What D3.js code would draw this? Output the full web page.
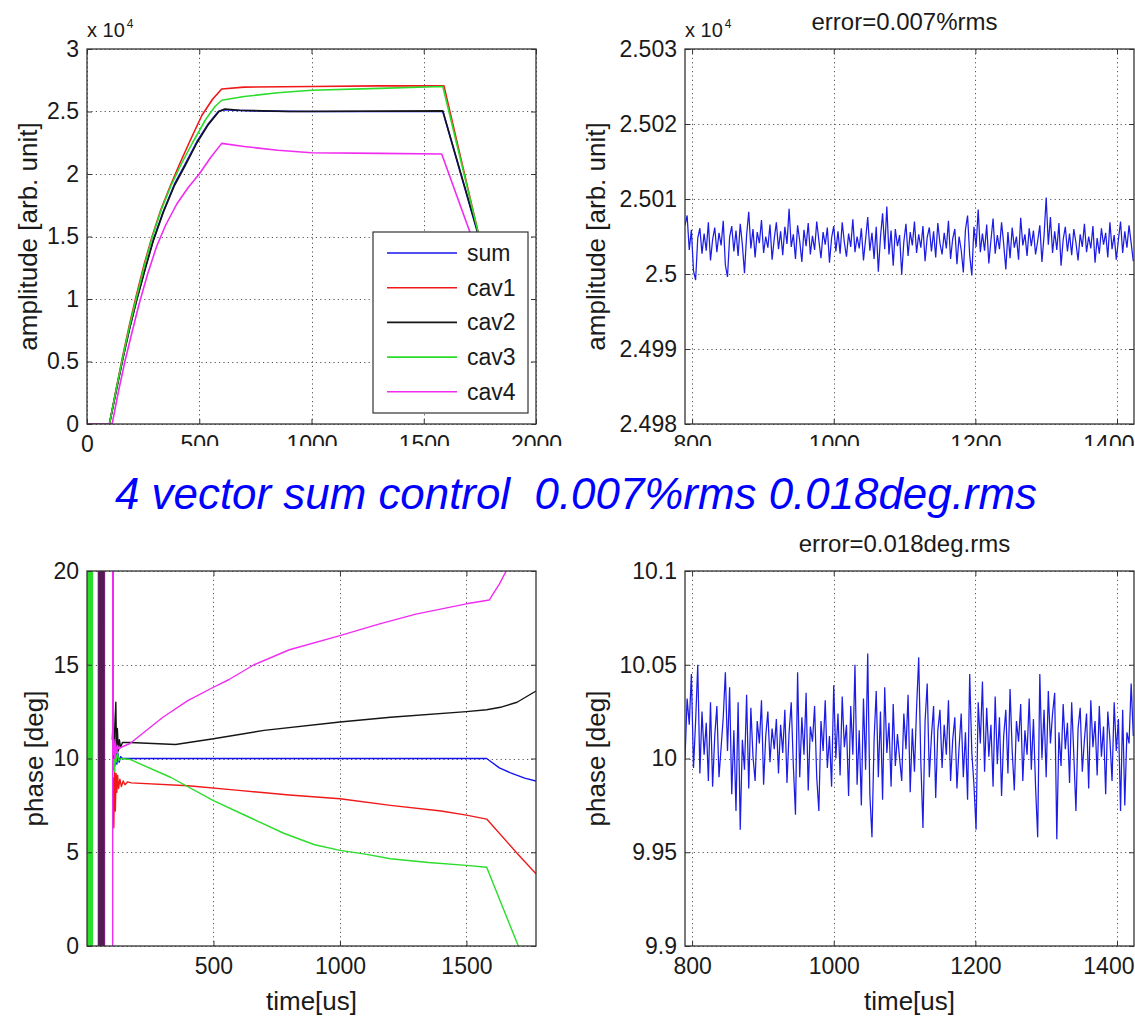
<!DOCTYPE html>
<html>
<head>
<meta charset="utf-8">
<script src="https://cdn.jsdelivr.net/npm/d3@7"></script>
<style>
  body { margin: 0; background: #fff; }
  svg { display: block; font-family: "Liberation Sans", Arial, Helvetica, sans-serif; }
</style>
</head>
<body>
<svg id="fig" width="1135" height="1017"></svg>
<script>
// ---------------------------------------------------------------------------
// Data
// ---------------------------------------------------------------------------
const seriesNames = ["sum", "cav1", "cav2", "cav3", "cav4"];

// Amplitude over the whole pulse, [time us, amplitude arb. unit]
const sumAmp = [[0,0],[100,0],[130,2700],[160,5300],[190,7700],[222,10000],[260,12500],[295,14700],[340,17000],[390,19200],[435,20700],[490,22600],[540,24000],[585,25000],[610,25150],[650,25100],[800,25030],[1000,25000],[1585,25000],[1775,13100]];
const cav1Amp = [[0,0],[100,0],[130,2800],[160,5500],[190,8000],[220,10300],[255,12800],[290,15000],[330,17200],[370,19000],[410,20700],[460,22700],[512,24700],[560,26000],[600,26800],[700,26950],[1000,27000],[1300,27050],[1590,27050],[1775,12800]];
const cav2Amp = [[0,0],[100,0],[130,2650],[160,5250],[190,7650],[222,9950],[260,12450],[295,14650],[340,16950],[390,19100],[435,20600],[490,22500],[540,23950],[588,25000],[615,25200],[680,25100],[900,25000],[1585,25050],[1775,13200]];
const cav3Amp = [[0,0],[100,0],[130,2750],[160,5400],[190,7850],[220,10100],[255,12600],[290,14900],[330,17100],[375,19100],[420,20800],[470,22500],[530,24400],[570,25400],[600,25900],[700,26200],[850,26500],[1000,26700],[1300,26850],[1585,27000],[1775,12900]];
const cav4Amp = [[0,0],[112,0],[140,2600],[170,5100],[200,7300],[232,9600],[270,12000],[310,14200],[350,15900],[400,17600],[450,18900],[500,20000],[550,21300],[600,22450],[700,22200],[850,21900],[1000,21700],[1300,21650],[1580,21600],[1775,11900]];

// Phase over the whole pulse, [time us, phase deg]; the *Wrap arrays hold the
// phase jumps while the field is still near zero at the start of the pulse
const cav2PhaseWrap = [[46,-180],[48,180],[50,-180],[52,180],[54,-180],[56,180],[58,-180],[60,180],[62,-180],[64,180],[66,-180],[68,180]];
const cav3PhaseWrap = [[0,180],[2,-180],[4,180],[6,-180],[8,180],[10,-180],[12,180],[14,-180],[16,180],[18,-180],[20,180],[22,-180]];
const cav4PhaseWrap = [[44,180],[46,-180],[48,180],[50,-180],[52,180],[54,-180],[56,180],[58,-180],[60,180],[62,-180],[64,180],[66,-180],[68,180],[70,-180]];

const sumPhase = [[106,10.8],[110,9.6],[114,10.6],[118,9.7],[122,10.3],[127,9.8],[133,10.1],[140,10.0],[170,10.0],[400,10.0],[800,10.0],[1200,10.0],[1580,10.0],[1600,9.8],[1630,9.5],[1672,9.25],[1730,8.95],[1775,8.8]];
const cav1Phase = [[103,9.0],[106,6.3],[109,9.5],[112,7.2],[115,9.2],[118,8.2],[121,9.1],[125,8.4],[130,8.9],[136,8.5],[143,8.8],[150,8.6],[160,8.75],[175,8.7],[400,8.55],[600,8.3],[800,8.05],[1000,7.85],[1200,7.5],[1400,7.2],[1500,6.98],[1580,6.77],[1700,4.95],[1775,3.85]];
const cav2Phase = [[100,11.0],[104,12.2],[107,9.4],[111,12.1],[114,13.0],[117,10.2],[120,11.6],[124,10.4],[128,11.0],[133,10.6],[140,10.85],[170,10.85],[350,10.75],[500,11.05],[700,11.5],[1000,11.95],[1200,12.2],[1500,12.5],[1580,12.6],[1640,12.75],[1700,13.0],[1775,13.6]];
const cav3Phase = [[104,10.0],[108,9.3],[111,10.4],[115,9.8],[120,10.3],[126,9.9],[135,10.0],[170,9.95],[330,9.0],[500,7.75],[620,7.0],[780,6.0],[900,5.4],[1000,5.1],[1100,4.9],[1200,4.65],[1350,4.45],[1500,4.3],[1580,4.2],[1705,0],[1730,-0.8]];
const cav4Phase = [[101,-180],[102,180],[104,10.2],[107,11.0],[110,10.0],[113,10.8],[117,10.3],[121,10.7],[126,10.5],[135,10.6],[170,10.8],[300,12.2],[400,13.1],[500,13.8],[560,14.2],[660,15.0],[800,15.8],[1000,16.55],[1150,17.15],[1300,17.7],[1500,18.25],[1590,18.45],[1630,19.3],[1665,20.2],[1700,21.0]];

// Flat-top detail of the vector sum, sampled every errStep us from errStart
const errStart = 790;
const errStep = 3;
const sumAmpFlat = [
  25006.5,25007.8,25003.2,25005.9,25000.4,24999.2,25004.8,25006.1,25002.7,25005.4,
  25003.1,25006.9,25001.8,25004.6,25006.2,25002.9,25005.5,25003.8,25007.1,25001.2,
  24999.6,25004.9,25006.4,25003.0,25005.8,25002.4,25006.7,25003.9,25000.1,25005.2,
  25008.3,25003.4,25006.0,25002.2,25005.6,25004.1,25007.2,25002.8,25005.0,25003.5,
  25006.6,25001.9,25004.7,25006.9,25003.3,25005.7,25002.5,25006.3,25004.0,25008.7,
  25003.6,25005.3,25002.0,25006.5,25004.4,25001.6,25005.9,25003.7,25006.8,25002.6,
  25005.1,25003.2,25007.0,25004.5,25002.1,25005.6,25003.9,25006.2,25001.5,25004.8,
  25006.4,25003.0,25005.7,25002.7,25006.9,25004.2,25002.3,25005.4,25003.6,25007.3,
  25002.9,25005.0,25003.4,25006.1,25001.8,25004.6,25007.6,25003.1,25005.5,25002.0,
  25006.3,25000.3,25004.9,25008.1,25003.3,25009.0,25002.6,25005.8,25001.1,25006.0,
  25003.7,25005.2,24999.9,25004.3,25006.7,25002.4,25005.6,25003.8,25007.0,25002.8,
  25005.3,25003.5,25006.4,25001.7,25004.9,25006.2,25003.0,25005.7,25002.2,25006.8,
  25004.1,25002.6,25005.5,25003.4,25007.1,25002.0,25004.7,25006.0,25001.3,25005.0,
  25003.2,25000.2,25005.9,25007.8,25002.5,24999.8,25006.3,25003.6,25008.6,25002.9,
  25005.4,25003.1,25006.6,25001.4,25004.5,25007.4,25002.7,25005.2,25003.3,25006.9,
  25004.0,25000.6,25005.6,25002.1,25006.2,25003.5,25005.0,25001.9,25007.5,25003.8,
  25005.3,25002.4,25006.1,25003.7,25005.8,25002.6,25004.4,25006.5,25001.6,25005.1,
  25010.2,25003.9,25007.6,25002.8,25005.7,25003.2,25006.8,25001.1,25004.6,25006.3,
  25003.0,25005.4,25002.5,25006.0,25004.2,25001.8,25005.3,25003.6,25006.7,25002.9,
  25005.0,25003.4,25006.4,25001.5,25004.8,25002.7,25006.1,25003.9,25005.5,25002.2,
  25006.9,25003.3,25005.2,25001.9,25004.6,25007.0,25002.8,25005.7,25003.5,25006.5,
  25004.1,25001.7
];
const sumPhaseFlat = [
  10.000,10.032,10.018,10.045,9.995,10.020,10.050,9.992,10.025,10.002,
  10.019,9.988,10.030,9.985,10.012,10.028,9.990,10.006,10.022,10.046,
  10.004,10.038,9.981,10.015,9.972,10.030,9.962,10.010,9.994,10.034,
  9.984,10.027,10.001,9.988,10.020,10.008,10.031,9.986,10.012,10.025,
  9.998,10.016,10.005,10.021,9.992,10.018,10.003,10.026,9.987,10.014,
  10.030,9.996,9.970,10.046,9.990,10.022,10.002,10.035,9.983,10.017,
  10.009,10.028,9.990,9.972,10.020,10.004,10.031,9.995,10.012,9.985,
  10.039,10.000,10.024,9.991,10.033,10.006,10.018,9.980,10.028,10.002,
  10.050,9.986,10.015,9.975,10.032,9.994,10.056,9.981,9.958,10.010,
  10.036,9.990,10.025,9.978,10.038,10.003,10.019,9.985,10.029,9.996,
  10.013,10.000,9.988,10.024,10.005,10.034,9.982,10.016,9.993,10.027,
  10.054,9.998,9.963,10.020,10.040,9.990,10.012,10.028,9.979,10.015,
  10.026,9.995,10.018,10.002,10.031,9.988,10.010,10.022,9.984,10.006,
  10.024,9.990,10.014,9.978,10.045,10.003,9.986,9.962,10.030,10.008,
  10.041,9.993,10.027,10.001,10.018,9.985,10.033,9.997,10.022,9.980,
  10.012,10.026,9.992,10.037,10.004,9.983,10.020,10.009,10.029,9.988,
  10.015,10.002,10.032,9.994,10.021,9.985,9.958,10.045,10.000,10.026,
  9.990,10.036,10.008,10.024,10.035,9.957,10.014,9.996,10.029,10.005,
  10.019,9.987,10.030,10.002,9.972,10.016,10.027,9.993,10.010,10.024,
  9.984,10.031,10.006,10.020,9.991,10.028,10.001,10.017,9.981,10.025,
  10.010,9.988,10.030,10.004,10.021,9.972,10.026,9.975,10.014,10.008,
  10.040,10.012
];

// Axis ticks
const pulseTicks = [0, 500, 1000, 1500, 2000];
const pulsePhaseTicks = [500, 1000, 1500];
const flatTicks = [800, 1000, 1200, 1400];
const ampTicks = [0, 5000, 10000, 15000, 20000, 25000, 30000];
const ampFlatTicks = [24980, 24990, 25000, 25010, 25020, 25030];
const phaseTicks = [0, 5, 10, 15, 20];
const phaseFlatTicks = [9.9, 9.95, 10, 10.05, 10.1];

// Text
const mainTitle = "4 vector sum control  0.007%rms 0.018deg.rms";
const ampTitle = "error=0.007%rms";
const phaseTitle = "error=0.018deg.rms";

// ---------------------------------------------------------------------------
// Drawing
// ---------------------------------------------------------------------------
const colors = { sum: "#1414f0", cav1: "#f01818", cav2: "#151515", cav3: "#2bdc2b", cav4: "#f02cf0" };
const svg = d3.select("#fig");
const defs = svg.append("defs");
const TICK_FONT = 23;
const FIG_W = 1135;

function makePanel(o) {
  const g = svg.append("g").attr("transform", `translate(${o.left},${o.top})`);
  const x = d3.scaleLinear().domain(o.xDomain).range([0, o.w]);
  const y = d3.scaleLinear().domain(o.yDomain).range([o.h, 0]);

  defs.append("clipPath").attr("id", "clip-" + o.key)
    .append("rect").attr("width", o.w).attr("height", o.h);

  // dotted grid
  const grid = g.append("g").attr("stroke", "#555").attr("stroke-width", 1)
    .attr("stroke-dasharray", "1.2,3.2");
  grid.selectAll(".gx").data(o.xGrid).join("line").attr("class", "gx")
    .attr("x1", d => Math.round(x(d)) + 0.5).attr("x2", d => Math.round(x(d)) + 0.5)
    .attr("y1", 0).attr("y2", o.h);
  grid.selectAll(".gy").data(o.yTicks).join("line").attr("class", "gy")
    .attr("y1", d => Math.round(y(d)) + 0.5).attr("y2", d => Math.round(y(d)) + 0.5)
    .attr("x1", 0).attr("x2", o.w);

  const plot = g.append("g").attr("clip-path", `url(#clip-${o.key})`);

  // frame
  g.append("rect").attr("width", o.w).attr("height", o.h)
    .attr("fill", "none").attr("stroke", "#333").attr("stroke-width", 1.3);

  const addAxis = (axis, tr) => {
    const a = g.append("g").attr("transform", tr).call(axis);
    a.select(".domain").remove();
    a.attr("font-family", null).attr("font-size", TICK_FONT);
    a.selectAll("line").attr("stroke", "#333");
    a.selectAll("text").attr("fill", "#1a1a1a");
    return a;
  };
  const xb = addAxis(d3.axisBottom(x).tickValues(o.xTicks).tickSize(-5).tickSizeOuter(0)
    .tickPadding(12).tickFormat(d3.format("d")), `translate(0,${o.h})`);
  // keep the last label inside the figure edge
  xb.selectAll("text").each(function (d) {
    const right = o.left + x(d) + this.getComputedTextLength() / 2;
    if (right > FIG_W - 1) d3.select(this).attr("dx", FIG_W - 1 - right);
  });
  addAxis(d3.axisTop(x).tickValues(o.xGrid).tickSize(-5).tickSizeOuter(0).tickFormat(""), "translate(0,0)");
  addAxis(d3.axisLeft(y).tickValues(o.yTicks).tickSize(-5).tickSizeOuter(0)
    .tickPadding(8).tickFormat(o.yFmt), "translate(0,0)");
  addAxis(d3.axisRight(y).tickValues(o.yTicks).tickSize(-5).tickSizeOuter(0).tickFormat(""), `translate(${o.w},0)`);

  // y label
  svg.append("text")
    .attr("transform", `translate(${o.ylabelX},${o.top + o.h / 2}) rotate(-90)`)
    .attr("text-anchor", "middle").attr("dy", "0.36em")
    .attr("font-size", 26).attr("fill", "#1a1a1a").text(o.ylabel);

  if (o.xlabel) {
    svg.append("text").attr("x", o.left + o.w / 2).attr("y", o.top + o.h + 64)
      .attr("text-anchor", "middle").attr("font-size", 26).attr("fill", "#1a1a1a")
      .text(o.xlabel);
  }
  if (o.title) {
    svg.append("text").attr("x", o.left + o.w / 2 - 5).attr("y", o.top - 19)
      .attr("text-anchor", "middle").attr("font-size", 24).attr("fill", "#1a1a1a")
      .text(o.title);
  }
  if (o.exponent) {
    const t = svg.append("text").attr("x", o.left).attr("y", o.top - 12)
      .attr("font-size", 20).attr("fill", "#1a1a1a");
    t.append("tspan").text("x 10");
    t.append("tspan").attr("font-size", 12).attr("dy", -9).attr("dx", 2).text("4");
  }
  return { g, plot, x, y };
}

const fmtAmp = d => String(+(d / 1e4).toFixed(3));
const fmtPlain = d => String(+d.toFixed(2));

// Top left: amplitude over the pulse
const pA = makePanel({
  key: "amp", left: 87, top: 49, w: 449, h: 375,
  xDomain: [0, 2000], yDomain: [0, 30000],
  xTicks: pulseTicks, xGrid: pulseTicks, yTicks: ampTicks, yFmt: fmtAmp,
  ylabel: "amplitude [arb. unit]", ylabelX: 28, exponent: true
});
const ampSeries = [sumAmp, cav1Amp, cav2Amp, cav3Amp, cav4Amp];
const lineA = d3.line().x(d => pA.x(d[0])).y(d => pA.y(d[1]));
ampSeries.forEach((s, i) => {
  pA.plot.append("path").datum(s).attr("d", lineA).attr("fill", "none")
    .attr("stroke", colors[seriesNames[i]]).attr("stroke-width", 1.6)
    .attr("stroke-linejoin", "round");
});

// legend
const leg = pA.g.append("g").attr("transform", "translate(286,183)");
leg.append("rect").attr("width", 155).attr("height", 181)
  .attr("fill", "#fff").attr("stroke", "#333").attr("stroke-width", 1.2);
seriesNames.forEach((n, i) => {
  const yy = 21 + i * 34.7;
  leg.append("line").attr("x1", 14).attr("x2", 84).attr("y1", yy).attr("y2", yy)
    .attr("stroke", colors[n]).attr("stroke-width", 1.6);
  leg.append("text").attr("x", 94).attr("y", yy).attr("dy", "0.35em")
    .attr("font-size", 23).attr("fill", "#1a1a1a").text(n);
});

// Top right: amplitude flat-top detail
const pB = makePanel({
  key: "ampflat", left: 685, top: 49, w: 449, h: 375,
  xDomain: [790, 1424], yDomain: [24980, 25030],
  xTicks: flatTicks, xGrid: flatTicks, yTicks: ampFlatTicks, yFmt: fmtAmp,
  ylabel: "amplitude [arb. unit]", ylabelX: 596, exponent: true, title: ampTitle
});
pB.plot.append("path").datum(sumAmpFlat)
  .attr("d", d3.line().x((d, i) => pB.x(errStart + i * errStep)).y(d => pB.y(d)))
  .attr("fill", "none").attr("stroke", "#1c1ce6").attr("stroke-width", 1.25);

// the lower part of the upper tick labels is hidden behind the caption band
svg.append("rect").attr("x", 100).attr("y", 446).attr("width", 1035).attr("height", 22).attr("fill", "#fff");

// Bottom left: phase over the pulse
const pC = makePanel({
  key: "phase", left: 87, top: 571, w: 449, h: 375,
  xDomain: [0, 1775], yDomain: [0, 20],
  xTicks: pulsePhaseTicks, xGrid: pulsePhaseTicks, yTicks: phaseTicks, yFmt: fmtPlain,
  ylabel: "phase [deg]", ylabelX: 34, xlabel: "time[us]"
});
const lineC = d3.line().x(d => pC.x(d[0])).y(d => pC.y(d[1]));
const phaseLayers = [
  [cav3PhaseWrap, "cav3", 1.6, 1], [cav4PhaseWrap, "cav4", 1.6, 1], [cav2PhaseWrap, "cav2", 1.6, 0.72],
  [sumPhase, "sum", 1.4, 1], [cav1Phase, "cav1", 1.4, 1], [cav2Phase, "cav2", 1.4, 1],
  [cav3Phase, "cav3", 1.4, 1], [cav4Phase, "cav4", 1.4, 1]
];
phaseLayers.forEach(([s, n, w, op]) => {
  pC.plot.append("path").datum(s).attr("d", lineC).attr("fill", "none")
    .attr("stroke", colors[n]).attr("stroke-width", w).attr("stroke-opacity", op)
    .attr("stroke-linejoin", "round");
});

// Bottom right: phase flat-top detail
const pD = makePanel({
  key: "phaseflat", left: 685, top: 571, w: 449, h: 375,
  xDomain: [790, 1424], yDomain: [9.9, 10.1],
  xTicks: flatTicks, xGrid: flatTicks, yTicks: phaseFlatTicks, yFmt: fmtPlain,
  ylabel: "phase [deg]", ylabelX: 596, xlabel: "time[us]", title: phaseTitle
});
pD.plot.append("path").datum(sumPhaseFlat)
  .attr("d", d3.line().x((d, i) => pD.x(errStart + i * errStep)).y(d => pD.y(d)))
  .attr("fill", "none").attr("stroke", "#1c1ce6").attr("stroke-width", 1.25);

// caption between the rows
svg.append("text").attr("x", 115).attr("y", 509)
  .attr("font-size", 44).attr("font-style", "italic").attr("fill", "#0000ff")
  .attr("textLength", 922).attr("lengthAdjust", "spacingAndGlyphs")
  .style("white-space", "pre").text(mainTitle);
</script>
</body>
</html>
